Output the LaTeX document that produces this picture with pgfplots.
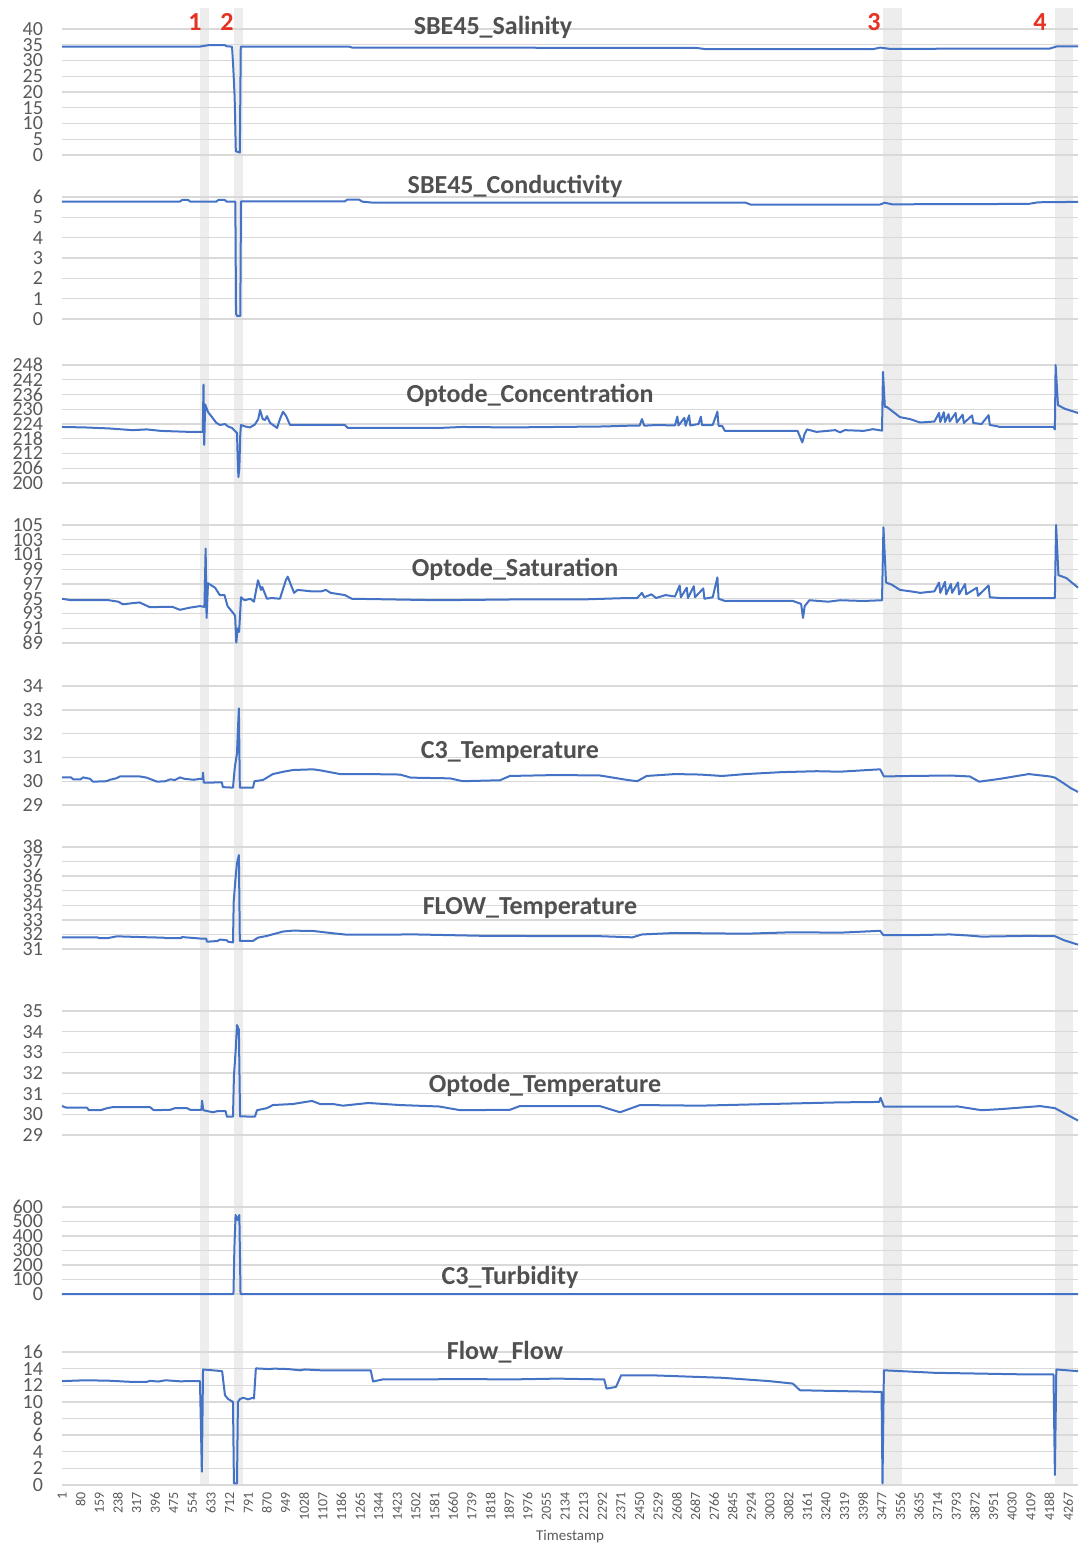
\documentclass[border=0pt]{standalone}
\usepackage{fontspec}
\setmainfont{Carlito}
\usepackage{pgfplots}
\pgfplotsset{compat=1.18}

\definecolor{lineblue}{HTML}{4472C4}
\definecolor{gridgray}{HTML}{D9D9D9}
\definecolor{bandgray}{HTML}{EDEDED}
\definecolor{tickgray}{HTML}{595959}
\definecolor{titlegray}{HTML}{505050}
\definecolor{markred}{HTML}{E53222}

\pgfplotsset{
  panel/.style={
    scale only axis, width=508pt, xmin=1, xmax=4309, clip=false,
    axis line style={draw=none}, tick style={draw=none}, xtick=\empty,
    ymajorgrids, grid style={gridgray, line width=0.7pt},
    anchor=south west,
    yticklabel style={font=\fontsize{10}{10}\selectfont, text=tickgray, xshift=-6pt},
    /pgf/number format/assume math mode=true,
    /pgf/number format/1000 sep={},
  },
  series/.style={lineblue, line width=1pt, line join=round},
}

\begin{document}
\begin{tikzpicture}
\useasboundingbox (0,0) rectangle (540.5pt,-773pt);

% grey bands behind all panels
\begin{axis}[scale only axis, width=508pt, height=738.5pt, at={(31pt,-742.5pt)}, anchor=south west,
  xmin=1, xmax=4309, ymin=0, ymax=1, hide axis]
\addplot[fill=bandgray, draw=none] coordinates {(586,0)(586,1)(624,1)(624,0)} -- cycle;
\addplot[fill=bandgray, draw=none] coordinates {(730,0)(730,1)(768,1)(768,0)} -- cycle;
\addplot[fill=bandgray, draw=none] coordinates {(3482,0)(3482,1)(3562,1)(3562,0)} -- cycle;
\addplot[fill=bandgray, draw=none] coordinates {(4211,0)(4211,1)(4287,1)(4287,0)} -- cycle;
\end{axis}

% SBE45_Salinity
\begin{axis}[panel, height=63pt, at={(31pt,-77.5pt)}, ymin=0, ymax=40, ytick={0,5,...,40}]
\addplot[series] coordinates {
(1,34.4)(585,34.4)(600,34.6)(625,34.9)(690,34.9)(700,34.5)(722,34.4)(727,28)(733,18.5)(738,1.2)
(755,0.8)(759,34.4)(1218,34.4)(1232,34.1)(2690,34.0)(2730,33.6)(3440,33.6)(3470,34.1)(3510,33.7)
(4190,33.8)(4220,34.5)(4309,34.5)};
\end{axis}

% SBE45_Conductivity
\begin{axis}[panel, height=61pt, at={(31pt,-159.5pt)}, ymin=0, ymax=6, ytick={0,1,...,6}]
\addplot[series] coordinates {
(1,5.77)(500,5.77)(512,5.86)(535,5.86)(545,5.77)(655,5.77)(665,5.86)(690,5.86)(700,5.77)(736,5.77)
(739,0.25)(744,0.15)(757,0.15)(760,5.78)(1200,5.78)(1210,5.87)(1260,5.87)(1275,5.77)(1320,5.72)
(2900,5.72)(2920,5.63)(3470,5.63)(3490,5.72)(3520,5.64)(4100,5.66)(4140,5.74)(4309,5.76)};
\end{axis}

% Optode_Concentration
\begin{axis}[panel, height=59pt, at={(31pt,-241.5pt)}, ymin=200, ymax=248, ytick={200,206,...,248}]
\addplot[series] coordinates {
(1,222.8)(100,222.6)(200,222.2)(300,221.5)(360,221.8)(420,221.2)(480,221.0)(540,220.8)(598,220.8)
(601,240.0)(604,215.5)(608,232)(620,228.9)(637,226.8)(655,224.5)(671,223.6)(692,224.0)(705,223.0)
(722,222.4)(743,220.3)(746,210)(749,202.4)(753,206)(757,220)(760,223.6)(777,223.0)(798,222.6)
(819,223.8)(833,226)(841,229.7)(852,226)(862,225.6)(870,227.2)(883,224.5)(913,222.4)(925,226)
(938,229.0)(950,227.5)(968,223.6)(1200,223.6)(1213,222.4)(1600,222.4)(1700,222.8)(1900,222.6)
(2100,222.8)(2300,223.0)(2400,223.3)(2450,223.3)(2460,226)(2470,223.3)(2520,223.6)(2600,223.4)
(2610,227)(2615,223.4)(2640,226.5)(2645,223.3)(2660,227.5)(2665,223.4)(2700,224)(2710,227)
(2715,223.5)(2760,223.6)(2780,229)(2785,223.2)(2800,223.2)(2812,221.2)(3120,221.2)(3140,216.5)
(3150,220)(3160,221.8)(3200,220.8)(3280,221.5)(3300,220.6)(3320,221.5)(3400,221.2)(3440,221.9)
(3478,221.3)(3482,245.2)(3490,231)(3499,230.9)(3554,226.8)(3597,226)(3639,224.6)(3700,225)
(3720,228.5)(3725,224.8)(3740,228.8)(3745,224.8)(3760,228)(3765,225)(3790,228.5)(3795,224.6)
(3820,227.8)(3825,224.4)(3860,227.5)(3865,224.4)(3900,224)(3930,227.6)(3935,223.6)(3960,223.2)
(3978,222.8)(4205,222.8)(4211,221.8)(4214,248)(4224,231.7)(4253,230.2)(4309,228.5)};
\end{axis}

% Optode_Saturation
\begin{axis}[panel, height=59pt, at={(31pt,-321.5pt)}, ymin=89, ymax=105, ytick={89,91,...,105}]
\addplot[series] coordinates {
(1,95.0)(40,94.8)(200,94.8)(240,94.6)(259,94.25)(300,94.4)(330,94.5)(374,93.85)(430,93.9)
(470,93.9)(501,93.5)(544,93.8)(586,94.0)(605,93.9)(610,101.8)(614,92.4)(620,97.1)(650,96.5)
(670,95.5)(690,95.5)(703,94.0)(726,93.1)(735,92.7)(740,89.05)(746,91.0)(752,90.5)(760,95.2)
(775,94.8)(800,95.0)(815,94.6)(832,97.5)(845,96.2)(850,96.6)(870,95.0)(890,95.1)(925,95.0)
(950,97.5)(958,98.0)(985,95.8)(1000,96.2)(1060,96.0)(1100,96.0)(1120,96.2)(1140,95.8)(1200,95.5)
(1230,95.0)(1600,94.8)(1900,94.9)(2200,94.9)(2400,95.1)(2440,95.1)(2460,95.8)(2470,95.2)
(2500,95.6)(2520,95.1)(2560,95.5)(2600,95.3)(2620,96.8)(2625,95.2)(2650,96.5)(2655,95.1)
(2680,96.7)(2685,95.2)(2720,96.4)(2725,95.0)(2760,95.2)(2780,97.9)(2785,95.0)(2812,94.7)
(3100,94.7)(3135,94.3)(3143,92.4)(3150,94.0)(3170,94.8)(3250,94.6)(3300,94.8)(3400,94.7)
(3478,94.8)(3484,104.7)(3495,97.2)(3520,96.9)(3554,96.2)(3600,96.0)(3640,95.8)(3700,96.0)
(3720,97.2)(3725,95.8)(3745,97.3)(3750,95.6)(3770,97.0)(3775,95.8)(3800,97.2)(3805,95.6)
(3830,97.0)(3835,95.6)(3880,96.5)(3885,95.4)(3930,96.8)(3935,95.2)(3978,95.1)(4211,95.1)
(4216,105)(4226,98.2)(4260,97.8)(4309,96.5)};
\end{axis}

% C3_Temperature
\begin{axis}[panel, height=59.5pt, at={(31pt,-402.5pt)}, ymin=29, ymax=34, ytick={29,30,...,34}]
\addplot[series] coordinates {
(1,30.16)(40,30.16)(48,30.08)(80,30.08)(90,30.16)(120,30.1)(132,29.98)(190,30.0)(204,30.06)
(230,30.12)(247,30.2)(331,30.2)(360,30.15)(404,29.98)(440,30.0)(460,30.08)(480,30.05)(501,30.16)
(520,30.1)(560,30.06)(586,30.1)(597,30.1)(599,30.36)(602,29.94)(679,29.95)(683,29.75)(726,29.73)
(730,30.18)(734,30.6)(743,31.17)(747,32.2)(751,33.06)(755,29.73)(811,29.73)(817,30.0)(853,30.05)
(895,30.3)(940,30.4)(980,30.47)(1065,30.5)(1100,30.45)(1137,30.38)(1180,30.3)(1300,30.3)
(1434,30.28)(1480,30.15)(1646,30.12)(1700,30.0)(1858,30.04)(1900,30.22)(2100,30.26)(2282,30.24)
(2400,30.05)(2440,30.0)(2480,30.22)(2600,30.3)(2706,30.28)(2800,30.22)(2900,30.3)(3050,30.38)
(3200,30.42)(3300,30.4)(3470,30.5)(3486,30.2)(3600,30.22)(3766,30.24)(3850,30.2)(3890,29.98)
(3978,30.1)(4100,30.3)(4190,30.2)(4211,30.15)(4250,29.9)(4280,29.7)(4309,29.55)};
\end{axis}

% FLOW_Temperature
\begin{axis}[panel, height=51pt, at={(31pt,-474.5pt)}, ymin=31, ymax=38, ytick={31,32,...,38}]
\addplot[series] coordinates {
(1,31.8)(150,31.8)(162,31.74)(192,31.74)(234,31.87)(374,31.8)(430,31.78)(446,31.74)(505,31.74)
(510,31.82)(586,31.72)(612,31.72)(616,31.5)(660,31.55)(671,31.65)(700,31.6)(705,31.5)(726,31.45)
(729,34.25)(736,35.7)(743,36.9)(751,37.45)(755,31.56)(811,31.56)(832,31.78)(870,31.9)(938,32.2)
(980,32.26)(1065,32.24)(1150,32.08)(1210,31.98)(1500,32.0)(1650,31.95)(1800,31.9)(2282,31.88)
(2420,31.8)(2460,32.0)(2600,32.1)(2900,32.05)(3100,32.15)(3300,32.12)(3470,32.25)(3484,31.95)
(3600,31.95)(3766,32.0)(3850,31.92)(3900,31.85)(4100,31.9)(4211,31.88)(4250,31.6)(4309,31.3)};
\end{axis}

% Optode_Temperature
\begin{axis}[panel, height=62pt, at={(31pt,-567.5pt)}, ymin=29, ymax=35, ytick={29,30,...,35}]
\addplot[series] coordinates {
(1,30.4)(20,30.32)(107,30.32)(115,30.2)(165,30.2)(192,30.3)(217,30.35)(374,30.35)(390,30.2)
(460,30.22)(480,30.3)(531,30.3)(545,30.22)(592,30.22)(595,30.66)(600,30.2)(641,30.1)(658,30.15)
(695,30.15)(700,29.89)(726,29.89)(730,31.85)(738,33.2)(743,34.32)(751,34.1)(756,29.9)(819,29.89)
(828,30.2)(870,30.3)(895,30.45)(980,30.5)(1061,30.65)(1095,30.5)(1150,30.5)(1192,30.42)
(1300,30.55)(1434,30.45)(1600,30.38)(1690,30.2)(1900,30.22)(1942,30.4)(2282,30.4)(2367,30.1)
(2452,30.45)(2706,30.42)(3000,30.5)(3300,30.58)(3466,30.6)(3472,30.8)(3486,30.37)(3800,30.38)
(3900,30.2)(3978,30.25)(4148,30.4)(4211,30.3)(4260,30.0)(4309,29.7)};
\end{axis}

% C3_Turbidity
\begin{axis}[panel, height=43.5pt, at={(31pt,-647pt)}, ymin=0, ymax=600, ytick={0,100,...,600}]
\addplot[series] coordinates {
(1,0)(728,0)(732,320)(737,545)(745,510)(753,545)(758,0)(4309,0)};
\end{axis}

% Flow_Flow
\begin{axis}[panel, height=66.5pt, at={(31pt,-742.5pt)}, ymin=0, ymax=16, ytick={0,2,...,16},
  xtick={1,80,...,4267},
  xticklabel style={rotate=90, anchor=east, font=\fontsize{7}{7}\selectfont, text=tickgray}]
\addplot[series] coordinates {
(1,12.5)(100,12.6)(200,12.55)(300,12.4)(360,12.4)(374,12.53)(410,12.45)(440,12.6)(500,12.48)
(586,12.5)(594,1.6)(599,13.9)(640,13.8)(680,13.7)(692,10.8)(705,10.35)(726,10.0)(730,0.2)(743,0.2)
(747,10.0)(756,10.35)(770,10.5)(790,10.3)(810,10.5)(815,10.4)(823,14.03)(880,13.95)(900,14.0)
(960,13.95)(1010,13.8)(1030,13.9)(1100,13.8)(1310,13.8)(1320,12.45)(1360,12.7)(1500,12.7)
(1700,12.75)(1900,12.7)(2100,12.8)(2300,12.7)(2310,11.6)(2350,11.8)(2372,13.2)(2500,13.2)
(2650,13.05)(2800,12.9)(3000,12.5)(3100,12.2)(3130,11.4)(3300,11.3)(3476,11.2)(3480,0.2)
(3486,13.8)(3700,13.5)(3900,13.4)(4100,13.3)(4205,13.3)(4211,1.2)(4217,13.9)(4309,13.7)};
\end{axis}

% panel titles
\begin{scope}[every node/.style={font=\bfseries\fontsize{13}{13}\selectfont, text=titlegray}]
\node at (246.5pt,-13.5pt) {SBE45\_Salinity};
\node at (257.5pt,-93pt) {SBE45\_Conductivity};
\node at (265pt,-197.5pt) {Optode\_Concentration};
\node at (257.5pt,-284.5pt) {Optode\_Saturation};
\node at (255pt,-376pt) {C3\_Temperature};
\node at (265pt,-454pt) {FLOW\_Temperature};
\node at (272.5pt,-542.5pt) {Optode\_Temperature};
\node at (255pt,-638.5pt) {C3\_Turbidity};
\node at (252.5pt,-676pt) {Flow\_Flow};
\end{scope}

% event markers
\begin{scope}[every node/.style={font=\bfseries\fontsize{13}{13}\selectfont, text=markred}]
\node at (97.5pt,-11pt) {1};
\node at (113.5pt,-11pt) {2};
\node at (437pt,-11pt) {3};
\node at (520pt,-11pt) {4};
\end{scope}

\node[font=\fontsize{7.5}{7.5}\selectfont, text=tickgray] at (285pt,-768.5pt) {Timestamp};
\end{tikzpicture}
\end{document}
